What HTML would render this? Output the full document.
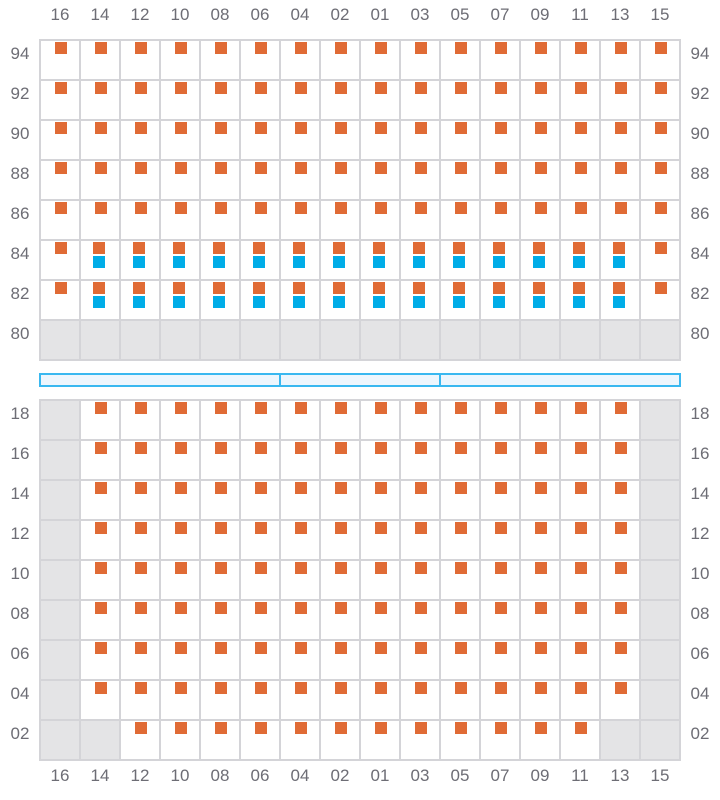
<!DOCTYPE html>
<html><head><meta charset="utf-8"><style>
html,body{margin:0;padding:0;background:#fff;}
svg{display:block;}
text{font-family:"Liberation Sans",sans-serif;font-size:17px;fill:#6d6d75;}
</style></head><body>
<svg width="720" height="800" viewBox="0 0 720 800" xmlns="http://www.w3.org/2000/svg">
<defs>
<pattern id="po" x="40" y="40" width="40" height="40" patternUnits="userSpaceOnUse"><rect x="15" y="2" width="12" height="12" fill="#e06b35"/></pattern>
<pattern id="pb" x="40" y="40" width="40" height="40" patternUnits="userSpaceOnUse"><rect x="13" y="2" width="12" height="12" fill="#e06b35"/><rect x="13" y="16" width="12" height="12" fill="#00ade8"/></pattern>
</defs>
<rect x="40" y="320" width="640" height="40" fill="#e4e4e6"/>
<rect x="40" y="40" width="640" height="200" fill="url(#po)"/>
<rect x="80" y="240" width="560" height="80" fill="url(#pb)"/>
<rect x="55" y="242" width="12" height="12" fill="#e06b35"/>
<rect x="55" y="282" width="12" height="12" fill="#e06b35"/>
<rect x="655" y="242" width="12" height="12" fill="#e06b35"/>
<rect x="655" y="282" width="12" height="12" fill="#e06b35"/>
<path stroke="#d4d4d8" stroke-width="2" fill="none" d="M40 39V361M80 39V361M120 39V361M160 39V361M200 39V361M240 39V361M280 39V361M320 39V361M360 39V361M400 39V361M440 39V361M480 39V361M520 39V361M560 39V361M600 39V361M640 39V361M680 39V361M39 40H681M39 80H681M39 120H681M39 160H681M39 200H681M39 240H681M39 280H681M39 320H681M39 360H681"/>
<rect x="40" y="374" width="640" height="12" fill="#eef6fd" stroke="#3ab8f0" stroke-width="2"/>
<path stroke="#3ab8f0" stroke-width="2" d="M280 374V386M440 374V386"/>
<rect x="40" y="400" width="40" height="360" fill="#e4e4e6"/>
<rect x="640" y="400" width="40" height="360" fill="#e4e4e6"/>
<rect x="80" y="720" width="40" height="40" fill="#e4e4e6"/>
<rect x="600" y="720" width="40" height="40" fill="#e4e4e6"/>
<rect x="80" y="400" width="560" height="320" fill="url(#po)"/>
<rect x="120" y="720" width="480" height="40" fill="url(#po)"/>
<path stroke="#d4d4d8" stroke-width="2" fill="none" d="M40 399V761M80 399V761M120 399V761M160 399V761M200 399V761M240 399V761M280 399V761M320 399V761M360 399V761M400 399V761M440 399V761M480 399V761M520 399V761M560 399V761M600 399V761M640 399V761M680 399V761M39 400H681M39 440H681M39 480H681M39 520H681M39 560H681M39 600H681M39 640H681M39 680H681M39 720H681M39 760H681"/>
<g text-anchor="middle">
<text x="60" y="20">16</text><text x="100" y="20">14</text><text x="140" y="20">12</text><text x="180" y="20">10</text><text x="220" y="20">08</text><text x="260" y="20">06</text><text x="300" y="20">04</text><text x="340" y="20">02</text><text x="380" y="20">01</text><text x="420" y="20">03</text><text x="460" y="20">05</text><text x="500" y="20">07</text><text x="540" y="20">09</text><text x="580" y="20">11</text><text x="620" y="20">13</text><text x="660" y="20">15</text>
<text x="60" y="781">16</text><text x="100" y="781">14</text><text x="140" y="781">12</text><text x="180" y="781">10</text><text x="220" y="781">08</text><text x="260" y="781">06</text><text x="300" y="781">04</text><text x="340" y="781">02</text><text x="380" y="781">01</text><text x="420" y="781">03</text><text x="460" y="781">05</text><text x="500" y="781">07</text><text x="540" y="781">09</text><text x="580" y="781">11</text><text x="620" y="781">13</text><text x="660" y="781">15</text>
<text x="20" y="59">94</text><text x="20" y="99">92</text><text x="20" y="139">90</text><text x="20" y="179">88</text><text x="20" y="219">86</text><text x="20" y="259">84</text><text x="20" y="299">82</text><text x="20" y="339">80</text>
<text x="700" y="59">94</text><text x="700" y="99">92</text><text x="700" y="139">90</text><text x="700" y="179">88</text><text x="700" y="219">86</text><text x="700" y="259">84</text><text x="700" y="299">82</text><text x="700" y="339">80</text>
<text x="20" y="419">18</text><text x="20" y="459">16</text><text x="20" y="499">14</text><text x="20" y="539">12</text><text x="20" y="579">10</text><text x="20" y="619">08</text><text x="20" y="659">06</text><text x="20" y="699">04</text><text x="20" y="739">02</text>
<text x="700" y="419">18</text><text x="700" y="459">16</text><text x="700" y="499">14</text><text x="700" y="539">12</text><text x="700" y="579">10</text><text x="700" y="619">08</text><text x="700" y="659">06</text><text x="700" y="699">04</text><text x="700" y="739">02</text>
</g>
</svg>
</body></html>
